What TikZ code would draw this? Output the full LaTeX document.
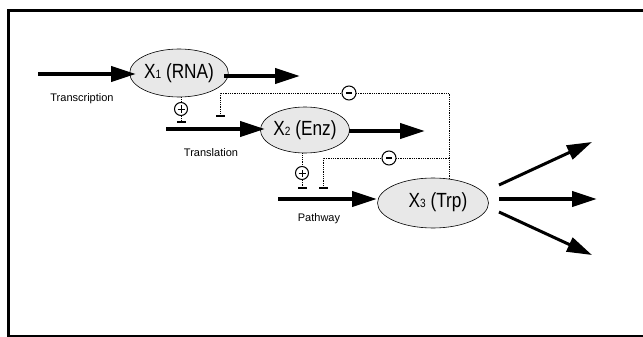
\documentclass[tikz,border=0pt]{standalone}
\usepackage{fontspec}
\setmainfont{Liberation Sans}
\newfontfamily\nodefont[FakeStretch=0.84]{Liberation Sans}
\usetikzlibrary{arrows.meta,shapes.geometric}
\newcommand{\subn}[1]{{\fontsize{12}{12}\selectfont #1}}
\begin{document}
\begin{tikzpicture}[x=1pt,y=-1pt,
  state/.style={ellipse, draw, line width=0.6pt, fill=gray!18, inner sep=0pt,
    font=\nodefont\fontsize{20.5}{20.5}\selectfont},
  flow/.style={line width=4pt, -{Triangle[length=25pt,width=15pt]}},
  flowthin/.style={line width=3pt, -{Triangle[length=25pt,width=15pt]}},
  lab/.style={font=\fontsize{11}{11}\selectfont, inner sep=0pt},
  reg/.style={densely dotted, line width=0.8pt},
  regbar/.style={reg, -{Bar[width=9pt,line width=1.6pt]}},
  plusc/.style={circle, draw, line width=1pt, fill=white, minimum size=13pt, inner sep=0pt,
    path picture={\draw[line width=1pt]
      ([xshift=-3.5pt]path picture bounding box.center) -- ([xshift=3.5pt]path picture bounding box.center)
      ([yshift=-3.5pt]path picture bounding box.center) -- ([yshift=3.5pt]path picture bounding box.center);}},
  minusc/.style={circle, draw, line width=1pt, fill=white, minimum size=14pt, inner sep=0pt,
    path picture={\draw[line width=2.4pt]
      ([xshift=-3pt]path picture bounding box.center) -- ([xshift=3pt]path picture bounding box.center);}}
]
\useasboundingbox (0,0) rectangle (643,337);
\clip (0,0) rectangle (643,337);
\draw[line width=3pt] (8,11) rectangle (660,336);

% species
\node[state, minimum width=77pt, minimum height=48pt] (X1) at (179,73) {X\subn{1} (RNA)};
\node[state, minimum width=76pt, minimum height=46pt] (X2) at (305,130) {X\subn{2} (Enz)};
\node[state, minimum width=111pt, minimum height=50pt] (X3) at (433,203) {\hspace{10pt}\raisebox{5pt}{X\subn{3} (Trp)}};

% labels
\node[lab] (lt) at (82,99) {Transcription};
\node[lab] (ll) at (211,153) {Translation};
\node[lab] (lp) at (319,219) {Pathway};

% coordinates
\coordinate (s1) at (38,74);
\coordinate (e1) at (136,74);
\coordinate (s1o) at (224,76);
\coordinate (e1o) at (300,76);
\coordinate (s2) at (166,129);
\coordinate (e2) at (265,129);
\coordinate (s2o) at (349,131);
\coordinate (e2o) at (425,131);
\coordinate (s3) at (278,199);
\coordinate (e3) at (377,199);
\coordinate (o1s) at (499,185);
\coordinate (o1e) at (592,142);
\coordinate (o2s) at (499,199);
\coordinate (o2e) at (597,199);
\coordinate (o3s) at (499,212);
\coordinate (o3e) at (592,255);

% main flows
\draw[flow] (s1) -- (e1);
\draw[flow] (s1o) -- (e1o);
\draw[flow] (s2) -- (e2);
\draw[flow] (s2o) -- (e2o);
\draw[flow] (s3) -- (e3);
\draw[flowthin] (o1s) -- (o1e);
\draw[flow] (o2s) -- (o2e);
\draw[flowthin] (o3s) -- (o3e);

% regulation: positive
\node[plusc] (p1) at (181,109) {};
\coordinate (b1) at (181,123);
\draw[reg] (X1.south -| p1) -- (p1.north);
\draw[regbar] (p1.south) -- (b1);

\node[plusc] (p2) at (302,173) {};
\coordinate (b2) at (302,189);
\draw[reg] (X2.south -| p2) -- (p2.north);
\draw[regbar] (p2.south) -- (b2);

% regulation: negative feedback
\coordinate (f0) at (449,179);
\coordinate (f1) at (449,93);
\coordinate (f2) at (220,93);
\coordinate (f3) at (220,117);
\draw[regbar] (f0) -- (f1) -- (f2) -- (f3);
\node[minusc] (m1) at (349,93) {};

\coordinate (g0) at (449,158);
\coordinate (g1) at (323,158);
\coordinate (g2) at (323,189);
\draw[regbar] (g0) -- (g1) -- (g2);
\node[minusc] (m2) at (389,158) {};
\end{tikzpicture}
\end{document}
